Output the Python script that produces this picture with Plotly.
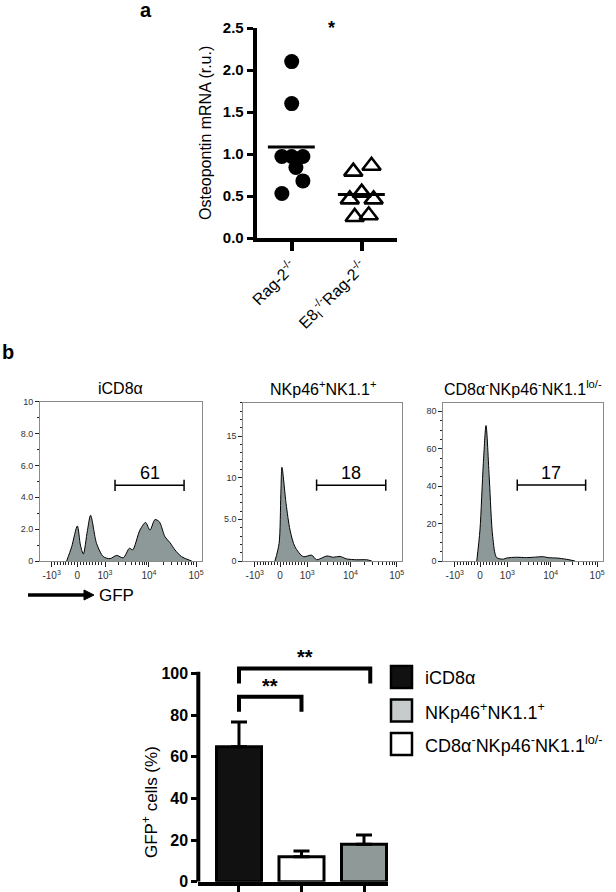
import numpy as np
import plotly.graph_objects as go

W, H = 616, 892
FONT = "Liberation Sans, Arial, sans-serif"


def fx(p):
    return p / W


def fy(p):
    return 1 - p / H


# ---------------- Panel a data ----------------
GROUPS = ["Rag-2<sup>-/-</sup>", "E8<sub>I</sub><sup>-/-</sup>Rag-2<sup>-/-</sup>"]
RAG = [2.10, 1.60, 0.97, 0.97, 0.97, 0.84, 0.68, 0.53]
E8 = [0.79, 0.86, 0.54, 0.46, 0.46, 0.25, 0.27]
RAG_JITTER = [0.0, 0.0, -0.14, 0.0, 0.16, 0.06, 0.16, -0.14]
E8_JITTER = [-0.12, 0.14, 0.0, -0.17, 0.17, -0.10, 0.10]
A_YTICKS = [0.0, 0.5, 1.0, 1.5, 2.0, 2.5]

# ---------------- Panel b histograms ----------------
HIST_TITLES = ["iCD8\u03b1", "NKp46<sup>+</sup>NK1.1<sup>+</sup>",
               "CD8\u03b1<sup>-</sup>NKp46<sup>-</sup>NK1.1<sup>lo/-</sup>"]
# GFP channel (display scale 0-1000) vs count
H1_CH = [165, 196, 231, 250, 268, 293, 313, 350, 392, 433, 474, 515, 553, 573, 618, 653, 680, 711, 738, 773, 804, 835, 876, 938]
H1_CT = [0, 0.9, 2.2, 1.0, 0.44, 1.9, 2.87, 1.1, 0.27, 0.15, 0.35, 0.2, 0.8, 0.7, 1.94, 2.42, 1.94, 2.6, 2.46, 1.52, 1.15, 0.69, 0.27, 0]
H2_CH = [199, 225, 236, 243, 269, 294, 325, 377, 430, 461, 525, 566, 608, 650, 713, 776, 808]
H2_CT = [0, 2.1, 8.0, 11.25, 6.9, 3.7, 1.7, 0.52, 0.7, 0.15, 0.6, 0.45, 0.55, 0.25, 0.15, 0.15, 0]
H3_CH = [210, 230, 251, 268, 289, 310, 335, 377, 398, 460, 523, 565, 627, 658, 711, 774, 826]
H3_CT = [0, 16.6, 52, 72.4, 43.3, 13, 1.8, 1.0, 1.6, 2.0, 1.8, 2.0, 2.3, 1.8, 1.6, 0.9, 0]
HIST_YMAX = [10, 19, 84.6]
HIST_YTICKS = [[0, 2, 4, 6, 8, 10], [0, 5, 10, 15], [0, 20, 40, 60, 80]]
HIST_YTEXT = [["0", "2.0", "4.0", "6.0", "8.0", "10"], ["0", "5.0", "10", "15"], ["0", "20", "40", "60", "80"]]
HIST_YMINOR = [1, 1, 5]
GATE_START = [464, 461, 464]
GATE_END = [891, 896, 893]
GATE_LEVEL = [4.75, 9.1, 40.6]
GATE_PCT = ["61", "18", "17"]
GFP_TICK_CH = [72, 231, 402, 674, 965]
GFP_TICK_TEXT = ["-10<sup>3</sup>", "0", "10<sup>3</sup>", "10<sup>4</sup>", "10<sup>5</sup>"]

# ---------------- Panel b bars ----------------
BAR_NAMES = ["iCD8\u03b1", "CD8\u03b1<sup>-</sup>NKp46<sup>-</sup>NK1.1<sup>lo/-</sup>", "NKp46<sup>+</sup>NK1.1<sup>+</sup>"]
BAR_MEAN = [64.8, 12.0, 18.0]
BAR_ERR = [11.9, 2.7, 4.4]
BAR_COLORS = ["#111111", "#ffffff", "#8e9998"]
BAR_YTICKS = [0, 20, 40, 60, 80, 100]
# significance brackets: (x_from, x_to, height, label)
BRACKETS = [(0, 2.1, 102.4, "**"), (0, 1, 88.8, "**")]
LEGEND_NAMES = ["iCD8\u03b1", "NKp46<sup>+</sup>NK1.1<sup>+</sup>",
                "CD8\u03b1<sup>-</sup>NKp46<sup>-</sup>NK1.1<sup>lo/-</sup>"]
LEGEND_COLORS = ["#111111", "#c6cccb", "#ffffff"]

fig = go.Figure()

# ---- Panel a ----
fig.add_trace(go.Scatter(x=[0 + j for j in RAG_JITTER], y=RAG, mode="markers",
                         marker=dict(symbol="circle", size=15, color="black"),
                         xaxis="x", yaxis="y", showlegend=False))
fig.add_trace(go.Scatter(x=[1 + j for j in E8_JITTER], y=E8, mode="markers",
                         marker=dict(symbol="triangle-up-open", size=16, color="black",
                                     line=dict(width=2.6, color="black")),
                         xaxis="x", yaxis="y", showlegend=False))
for i, vals in enumerate([RAG, E8]):
    m = float(np.mean(vals))
    fig.add_trace(go.Scatter(x=[i - 0.34, i + 0.33], y=[m, m], mode="lines",
                             line=dict(color="black", width=3),
                             xaxis="x", yaxis="y", showlegend=False))

# ---- Histograms ----
hist_data = [(H1_CH, H1_CT), (H2_CH, H2_CT), (H3_CH, H3_CT)]
for k, (ch, ct) in enumerate(hist_data):
    ax = str(k + 2)
    fig.add_trace(go.Scatter(x=ch, y=ct, mode="lines",
                             line=dict(color="black", width=1, shape="spline", smoothing=0.8),
                             fill="tozeroy", fillcolor="#8d9998",
                             xaxis="x" + ax, yaxis="y" + ax, showlegend=False))
    fig.add_trace(go.Scatter(x=[GATE_START[k], GATE_END[k]], y=[GATE_LEVEL[k]] * 2,
                             mode="lines+markers",
                             line=dict(color="black", width=1.5),
                             marker=dict(symbol="line-ns", size=8,
                                         line=dict(width=1.5, color="black")),
                             xaxis="x" + ax, yaxis="y" + ax, showlegend=False))

# ---- Bars ----
fig.add_trace(go.Bar(x=list(range(len(BAR_MEAN))), y=BAR_MEAN, width=0.72,
                     marker=dict(color=BAR_COLORS, line=dict(color="black", width=3)),
                     error_y=dict(type="data", array=BAR_ERR, arrayminus=[0] * 3,
                                  symmetric=False, thickness=3, width=8, color="black"),
                     xaxis="x5", yaxis="y5", showlegend=False))
for (x0, x1, hgt, lab) in BRACKETS:
    fig.add_trace(go.Scatter(x=[x0, x0, x1, x1], y=[hgt - 7.2, hgt, hgt, hgt - 7.2],
                             mode="lines", line=dict(color="black", width=4),
                             xaxis="x5", yaxis="y5", showlegend=False))

annotations = []
shapes = []


def pa(text, x, y, size, **kw):
    d = dict(text=text, x=fx(x), y=fy(y), xref="paper", yref="paper",
             xanchor="center", yanchor="middle", showarrow=False,
             font=dict(size=size, color="black"))
    d.update(kw)
    return d


# panel letters
annotations.append(pa("<b>a</b>", 146, 10, 20))
annotations.append(pa("<b>b</b>", 8, 352, 20))

# panel a extras
annotations.append(dict(text="<b>*</b>", x=0.57, y=2.5, xref="x", yref="y",
                        xanchor="center", yanchor="middle",
                        showarrow=False, font=dict(size=18, color="black")))
annotations.append(pa("Osteopontin mRNA (r.u.)", 205, 133, 16, textangle=-90))

# histogram titles & gate labels
for k in range(3):
    ax = str(k + 2)
    annotations.append(dict(text=HIST_TITLES[k], x=0.5, y=1, xref="x%s domain" % ax,
                            yref="y%s domain" % ax, xanchor="center", yanchor="bottom", yshift=3,
                            showarrow=False, font=dict(size=16, color="black")))
    annotations.append(dict(text=GATE_PCT[k], x=(GATE_START[k] + GATE_END[k]) / 2,
                            y=GATE_LEVEL[k], xref="x" + ax, yref="y" + ax,
                            xanchor="center", yanchor="bottom", yshift=0, showarrow=False,
                            font=dict(size=18, color="black")))

# GFP arrow
shapes.append(dict(type="line", xref="paper", yref="paper", x0=fx(28), x1=fx(86),
                   y0=fy(595), y1=fy(595), line=dict(color="black", width=3.5)))
shapes.append(dict(type="path", xref="paper", yref="paper",
                   path="M %f %f L %f %f L %f %f Z" % (fx(84), fy(590), fx(94), fy(595), fx(84), fy(600)),
                   fillcolor="black", line=dict(color="black", width=1)))
annotations.append(pa("GFP", 97, 595, 17, xanchor="left"))

# bar chart extras
for (x0, x1, hgt, lab) in BRACKETS:
    annotations.append(dict(text="<b>%s</b>" % lab, x=(x0 + x1) / 2, y=hgt, xref="x5", yref="y5",
                            xanchor="center", yanchor="bottom", yshift=-2, showarrow=False,
                            font=dict(size=20, color="black")))
annotations.append(pa("GFP<sup>+</sup> cells (%)", 150, 802, 17, textangle=-90))
shapes.append(dict(type="line", xref="x5 domain", yref="y5", x0=0, x1=0, y0=0, y1=100.8,
                   line=dict(color="black", width=4)))

# legend (drawn)
for i, (nm, col) in enumerate(zip(LEGEND_NAMES, LEGEND_COLORS)):
    top = 666 + i * 33.5
    shapes.append(dict(type="rect", xref="paper", yref="paper",
                       x0=fx(391), x1=fx(412), y0=fy(top + 22), y1=fy(top),
                       fillcolor=col, line=dict(color="black", width=2.5)))
    annotations.append(pa(nm, 423, top + 11.5, 18, xanchor="left"))

# ---- layout / axes ----
layout = dict(
    template="none",
    width=W, height=H, margin=dict(l=0, r=0, t=0, b=0, pad=0, autoexpand=False),
    paper_bgcolor="white", plot_bgcolor="rgba(0,0,0,0)",
    font=dict(family=FONT, color="black"),
    showlegend=False,
    annotations=annotations, shapes=shapes,
)

layout["xaxis"] = dict(domain=[fx(256.7), fx(396.7)], range=[-0.5, 1.5], anchor="y",
                       automargin=False,
                       tickmode="array", tickvals=[0, 1], ticktext=GROUPS, tickangle=-45,
                       ticks="outside", ticklen=9, tickwidth=4, tickcolor="black",
                       showline=True, linewidth=4, linecolor="black",
                       showgrid=False, zeroline=False, tickfont=dict(size=16))
layout["yaxis"] = dict(domain=[fy(238), fy(28)], range=[0, 2.5], anchor="x",
                       automargin=False,
                       tickmode="array", tickvals=A_YTICKS, ticktext=["%.1f" % v for v in A_YTICKS],
                       ticks="outside", ticklen=6, tickwidth=3, tickcolor="black",
                       showline=True, linewidth=4, linecolor="black",
                       showgrid=False, zeroline=False,
                       tickfont=dict(size=15, weight="bold"))

hist_x = [(40, 201.7), (243.3, 402.3), (443.3, 602.7)]
hist_top = [401.7, 402.7, 402.7]
lin1 = list(np.linspace(GFP_TICK_CH[0], GFP_TICK_CH[1], 10)[1:-1])
lin2 = list(np.linspace(GFP_TICK_CH[1], GFP_TICK_CH[2], 10)[1:-1])
log1 = [GFP_TICK_CH[2] + (GFP_TICK_CH[3] - GFP_TICK_CH[2]) * np.log10(k) for k in range(2, 10)]
log2 = [GFP_TICK_CH[3] + (GFP_TICK_CH[4] - GFP_TICK_CH[3]) * np.log10(k) for k in range(2, 10)]
minor_x = [float(v) for v in lin1 + lin2 + log1 + log2]
for k in range(3):
    ax = str(k + 2)
    layout["xaxis" + ax] = dict(domain=[fx(hist_x[k][0]), fx(hist_x[k][1])], range=[0, 1000],
                                anchor="y" + ax, automargin=False,
                                tickmode="array", tickvals=GFP_TICK_CH,
                                ticktext=GFP_TICK_TEXT, ticks="outside", ticklen=5,
                                tickwidth=1, tickcolor="#222",
                                minor=dict(tickmode="array", tickvals=minor_x, ticks="outside",
                                           ticklen=3, tickcolor="#222", tickwidth=1,
                                           showgrid=False),
                                showline=True, mirror=True, linewidth=1, linecolor="#8a8a8a",
                                showgrid=False, zeroline=False,
                                tickfont=dict(size=10, color="#333"))
    layout["yaxis" + ax] = dict(domain=[fy(561), fy(hist_top[k])], range=[0, HIST_YMAX[k]],
                                anchor="x" + ax, automargin=False,
                                tickmode="array", tickvals=HIST_YTICKS[k],
                                ticktext=HIST_YTEXT[k], ticks="outside", ticklen=4,
                                tickwidth=1, tickcolor="#222",
                                minor=dict(dtick=HIST_YMINOR[k], ticks="outside", ticklen=2,
                                           tickcolor="#222", tickwidth=1, showgrid=False),
                                showline=True, mirror=True, linewidth=1, linecolor="#8a8a8a",
                                showgrid=False, zeroline=False,
                                tickfont=dict(size=9, color="#333"))

layout["xaxis5"] = dict(domain=[fx(198.3), fx(388)], range=[-0.651, 2.384], anchor="y5",
                        automargin=False,
                        tickmode="array", tickvals=[0, 1, 2], showticklabels=False,
                        ticks="outside", ticklen=12, tickwidth=3, tickcolor="black",
                        showline=True, linewidth=4, linecolor="black",
                        showgrid=False, zeroline=False)
layout["yaxis5"] = dict(domain=[fy(881.7), fy(881.7 - 105 * 2.083)], range=[0, 105], anchor="x5",
                        automargin=False,
                        tickmode="array", tickvals=BAR_YTICKS, ticks="outside", ticklen=6,
                        tickwidth=3, tickcolor="black", showline=False,
                        showgrid=False, zeroline=False,
                        tickfont=dict(size=16, weight="bold"))

fig.update_layout(**layout)
fig.write_html("out.html", config={"displayModeBar": False})

# remove the browser's default page margin so the figure sits at the window origin
with open("out.html", "r", encoding="utf-8") as f:
    html = f.read()
html = html.replace("<head>", "<head><style>html,body{margin:0;padding:0;overflow:hidden;}</style>", 1)
with open("out.html", "w", encoding="utf-8") as f:
    f.write(html)
